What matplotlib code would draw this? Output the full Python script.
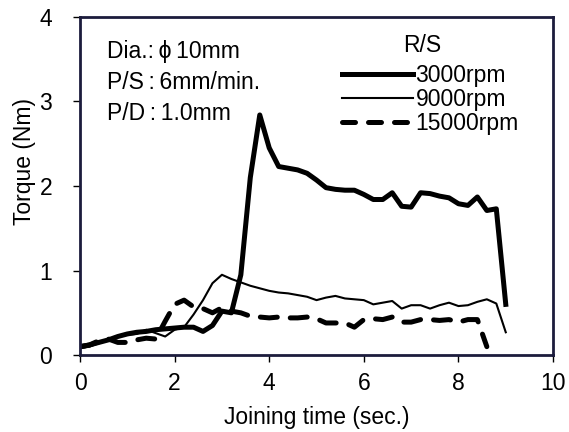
import numpy as np
import matplotlib
matplotlib.use('Agg')
import matplotlib.pyplot as plt
from matplotlib.lines import Line2D

# ============================================================
# DATA (0.2 s sampling)
# ============================================================
t_3000 = [0.0, 0.2, 0.4, 0.6, 0.8, 1.0, 1.2, 1.4, 1.6, 1.8, 2.0, 2.2, 2.4, 2.6, 2.8,
          3.0, 3.2, 3.4, 3.6, 3.8, 4.0, 4.2, 4.4, 4.6, 4.8, 5.0, 5.2, 5.4, 5.6, 5.8,
          6.0, 6.2, 6.4, 6.6, 6.8, 7.0, 7.2, 7.4, 7.6, 7.8, 8.0, 8.2, 8.4, 8.6, 8.8, 9.0]
torque_3000 = [0.10, 0.12, 0.15, 0.18, 0.22, 0.25, 0.27, 0.28, 0.30, 0.31, 0.32, 0.33, 0.33, 0.28, 0.35,
               0.52, 0.50, 0.95, 2.10, 2.84, 2.45, 2.23, 2.21, 2.19, 2.15, 2.07, 1.98, 1.96, 1.95, 1.95,
               1.90, 1.84, 1.84, 1.92, 1.76, 1.75, 1.92, 1.91, 1.88, 1.86, 1.79, 1.77, 1.87, 1.71, 1.73, 0.60]

t_9000 = t_3000
torque_9000 = [0.08, 0.10, 0.14, 0.18, 0.22, 0.24, 0.25, 0.30, 0.26, 0.22, 0.30, 0.33, 0.48, 0.65, 0.85,
               0.95, 0.90, 0.86, 0.82, 0.79, 0.76, 0.74, 0.73, 0.71, 0.69, 0.65, 0.68, 0.70, 0.67, 0.66,
               0.65, 0.60, 0.62, 0.64, 0.55, 0.59, 0.59, 0.55, 0.59, 0.62, 0.58, 0.59, 0.63, 0.66, 0.61, 0.27]

t_15000 = t_3000[:44]
torque_15000 = [0.10, 0.12, 0.17, 0.19, 0.15, 0.15, 0.18, 0.20, 0.19, 0.40, 0.60, 0.65, 0.57, 0.55, 0.50,
                0.56, 0.52, 0.50, 0.46, 0.45, 0.44, 0.45, 0.44, 0.44, 0.45, 0.43, 0.38, 0.38, 0.38, 0.33,
                0.42, 0.43, 0.42, 0.45, 0.39, 0.39, 0.42, 0.42, 0.41, 0.42, 0.39, 0.42, 0.42, 0.10]

labels = ['3000rpm', '9000rpm', '15000rpm']
conditions = ['Dia.:\u2009\u03d5\u200910mm', 'P/S\u2009:\u20096mm/min.', 'P/D\u2009:\u20091.0mm']

# ============================================================
# PLOT
# ============================================================
plt.rcParams['font.family'] = ['Liberation Sans', 'DejaVu Sans']
FS = 16.5

fig = plt.figure(figsize=(5.69, 4.32), dpi=100)
ax = fig.add_axes([0.1406, 0.178, 0.8314, 0.783])

spine_col = '#1c1c3c'
ax.plot(t_3000, torque_3000, color='black', lw=3.6, solid_joinstyle='round')
ax.plot(t_9000, torque_9000, color='black', lw=1.5)
ax.plot(t_15000, torque_15000, color='black', lw=3.6, dashes=(3.4, 2.6),
        dash_capstyle='round')

ax.set_xlim(0, 10)
ax.set_ylim(0, 4)
ax.set_xticks([0, 2, 4, 6, 8, 10])
ax.set_yticks([0, 1, 2, 3, 4])
ax.tick_params(direction='out', length=5, width=1, colors='black', labelsize=FS)
ax.tick_params(axis='x', pad=7)
ax.tick_params(axis='y', pad=15)
for s in ax.spines.values():
    s.set_color(spine_col)
    s.set_linewidth(2)

ax.set_xlabel('Joining time (sec.)', fontsize=FS, labelpad=8)
ax.set_ylabel('Torque (Nm)', fontsize=FS)
ax.yaxis.set_label_coords(-0.092, 0.571)

for i, txt in enumerate(conditions):
    ax.text(0.058, 0.879 - i * 0.092, txt, transform=ax.transAxes, fontsize=FS,
            va='baseline', ha='left')

ax.text(0.723, 0.896, 'R/S', transform=ax.transAxes, fontsize=FS,
        va='baseline', ha='center')
handles = [Line2D([], [], color='black', lw=3.6),
           Line2D([], [], color='black', lw=1.5),
           Line2D([], [], color='black', lw=3.6, dashes=(2.6, 2.6), dash_capstyle='round')]
leg = ax.legend(handles, labels, loc='upper left', bbox_to_anchor=(0.554, 0.862),
                frameon=False, fontsize=FS, handlelength=3.1, handletextpad=0.1,
                labelspacing=0.05, borderaxespad=0.0, borderpad=0.0)

fig.savefig('out.png', dpi=100)
